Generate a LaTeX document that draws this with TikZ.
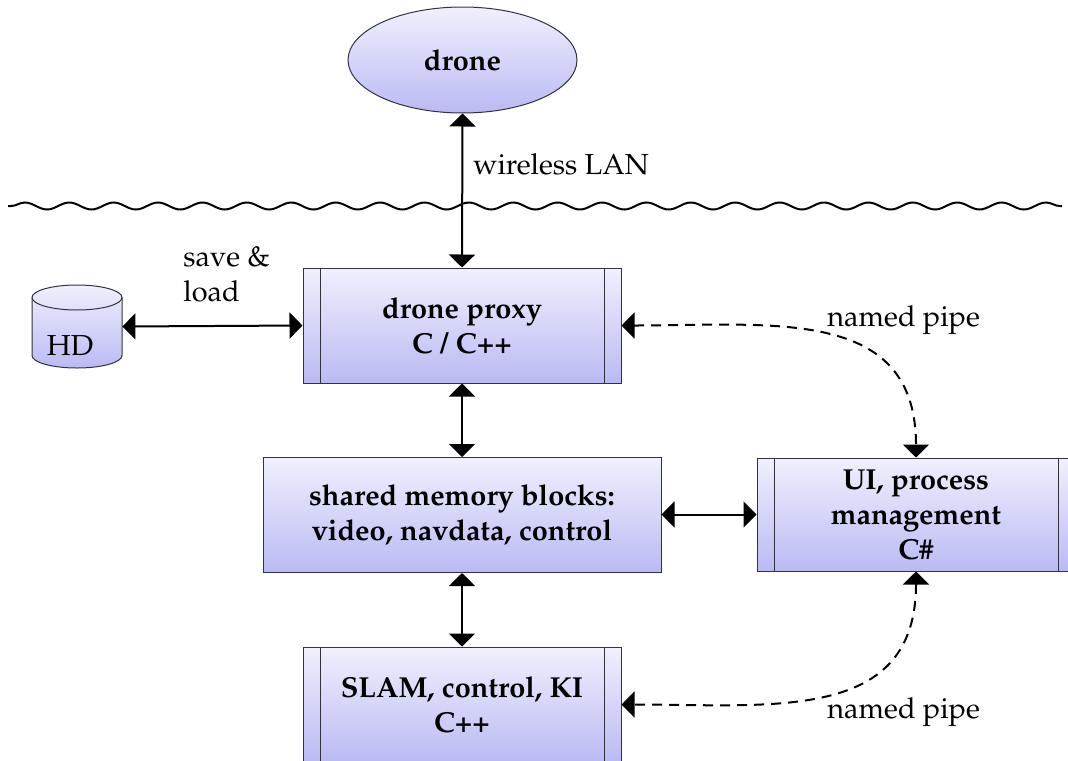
\documentclass[tikz,border=0pt]{standalone}
\usepackage[T1]{fontenc}
\usepackage{mathpazo}
\usetikzlibrary{arrows.meta,shapes.geometric,decorations.pathmorphing}
\definecolor{boxtop}{RGB}{240,240,254}
\definecolor{boxbot}{RGB}{186,186,244}
\definecolor{boxline}{RGB}{50,50,60}
\tikzset{
  shadebox/.style={draw=boxline, line width=0.5pt, top color=boxtop, bottom color=boxbot},
  blockbox/.style={shadebox, rectangle, minimum width=159pt, minimum height=57.5pt,
    inner sep=0pt, align=center, font=\fontsize{14.45}{17.5}\selectfont\bfseries},
  procbox/.style={blockbox, path picture={
    \draw[boxline, line width=0.5pt]
      ([xshift=8.5pt]path picture bounding box.north west) -- ([xshift=8.5pt]path picture bounding box.south west);
    \draw[boxline, line width=0.5pt]
      ([xshift=-8.5pt]path picture bounding box.north east) -- ([xshift=-8.5pt]path picture bounding box.south east);}},
  link/.style={line width=1pt, {Triangle[length=6.5pt,width=13pt]}-{Triangle[length=6.5pt,width=13pt]}},
  pipe/.style={link, dash pattern=on 5pt off 3.5pt},
  lbl/.style={inner sep=0pt, font=\fontsize{14.45}{17.5}\selectfont}
}
\begin{document}
\begin{tikzpicture}[x=0.5pt, y=-0.5pt]
\useasboundingbox (0,0) rectangle (1068,760);
\clip (0,0) rectangle (1068,760);

% nodes
\node[shadebox, ellipse, minimum width=114.5pt, minimum height=53pt, inner sep=0pt,
      font=\fontsize{14.45}{17.5}\selectfont\bfseries] (drone) at (462.5,60) {drone};
\node[procbox] (proxy) at (462,325.5) {drone proxy\\C / C++};
\node[blockbox, minimum width=199pt] (shm) at (462,515) {shared memory blocks:\\video, navdata, control};
\node[procbox, minimum height=56.5pt] (ui) at (916,514.5) {UI, process\\management\\C\#};
\node[procbox] (slam) at (462,704.5) {SLAM, control, KI\\C++};

% HD cylinder
\node[inner sep=0pt, minimum width=45pt, minimum height=41.5pt] (hd) at (77,326.5) {};
\path[shadebox] (32,355.5) arc[start angle=180, end angle=360, x radius=22.5pt, y radius=6.25pt]
  -- (122,297.5) arc[start angle=0, end angle=180, x radius=22.5pt, y radius=6.25pt] -- cycle;
\draw[boxline, line width=0.5pt] (32,297.5) arc[start angle=180, end angle=360, x radius=22.5pt, y radius=6.25pt];
\node[lbl] (hdtext) at (70,346) {HD};

% wave
\coordinate (wl) at (8,206);
\coordinate (wr) at (1062,206);
\draw[line width=1pt, decorate, decoration={snake, segment length=22.2pt, amplitude=1.75pt, pre length=1.5pt, post length=1pt}] (wl) -- (wr);

% connectors
\draw[link] (drone.south) -- (proxy.north);
\draw[link] (hd.east) -- (proxy.west);
\draw[link] (proxy.south) -- (shm.north);
\draw[link] (shm.east |- ui.west) -- (ui.west);
\draw[link] (shm.south) -- (slam.north);
\draw[pipe] (proxy.east) to[out=0, in=90, looseness=1.2] (ui.north);
\draw[pipe] (ui.south) to[out=-90, in=0, looseness=1.2] (slam.east);

% labels
\node[lbl, anchor=base west] (wlan) at (473,174) {wireless LAN};
\node[lbl, anchor=north west, align=left] (save) at (183,246) {save \&\\load};
\node[lbl, anchor=base west] (pipe1) at (827,326) {named pipe};
\node[lbl, anchor=base west] (pipe2) at (827,718) {named pipe};
\end{tikzpicture}
\end{document}
